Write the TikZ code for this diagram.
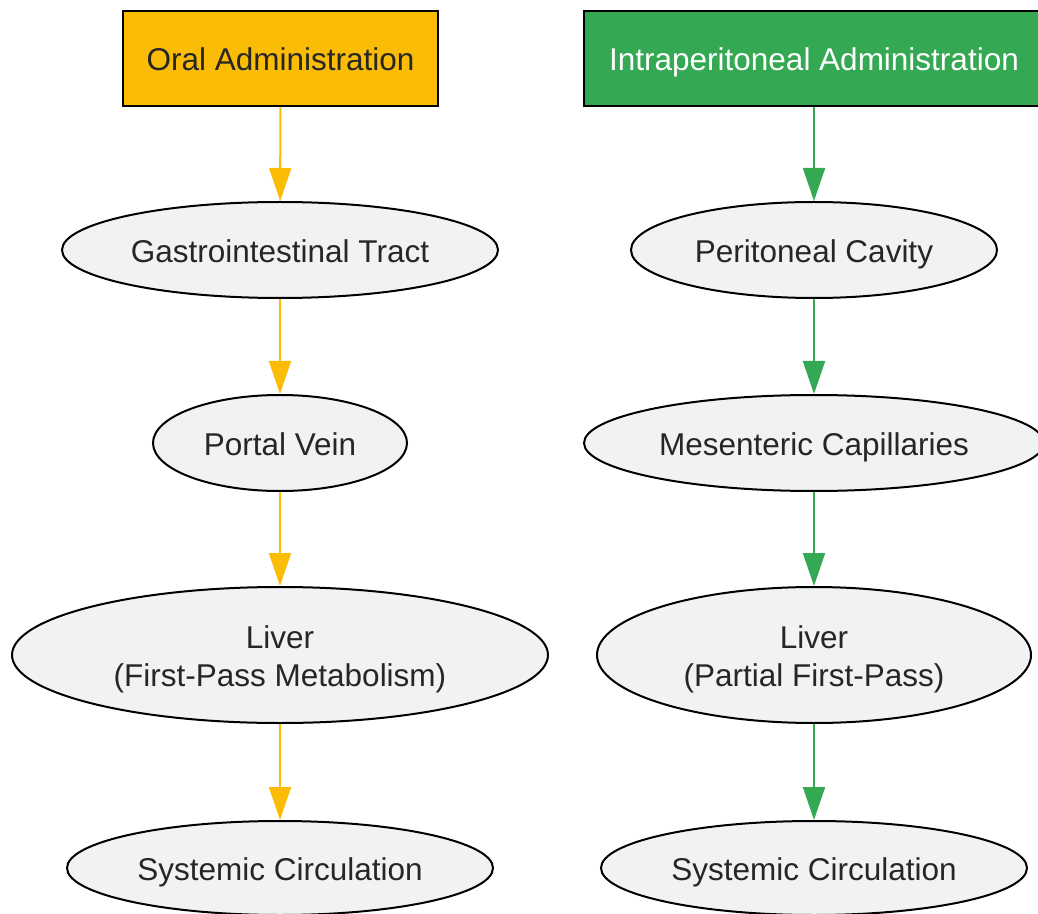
\documentclass[tikz,border=0pt]{standalone}
\usepackage{fontspec}
\setmainfont{Liberation Sans}
\usetikzlibrary{shapes.geometric,arrows.meta}

\definecolor{oralyellow}{HTML}{FBBC05}
\definecolor{ipgreen}{HTML}{34A853}
\definecolor{stepgray}{HTML}{F1F2F4}
\definecolor{textgray}{HTML}{262626}

\tikzset{
  routebox/.style={draw=black, line width=1pt, rectangle, inner sep=0pt,
    minimum width=#1, minimum height=47.5pt, text height=12.5pt, text depth=0pt},
  organ/.style={draw=black, line width=1pt, ellipse, fill=stepgray, inner sep=0pt,
    text=textgray, align=center, text height=12.5pt, text depth=0pt},
  twoline/.style={text height=31pt, text depth=0pt},
  oralflow/.style={draw=oralyellow, line width=1pt, -{Triangle[length=16.5pt, width=11pt]}},
  ipflow/.style={draw=ipgreen, line width=1pt, -{Triangle[length=16.5pt, width=11pt]}}
}

\begin{document}
\begin{tikzpicture}[x=0.5pt, y=-0.5pt, font=\fontsize{15.75}{19}\selectfont]
\useasboundingbox (0,0) rectangle (1038,914);

\node [routebox=157.5pt, fill=oralyellow, text=textgray] (oral) at (280.5,58.5) {Oral Administration};
\node [organ, minimum width=218pt, minimum height=48pt] (gi) at (280,250) {Gastrointestinal Tract};
\node [organ, minimum width=127pt, minimum height=48pt] (portal) at (280,443) {Portal Vein};
\node [organ, twoline, minimum width=268pt, minimum height=68pt] (liverA) at (280,655) {Liver\\(First-Pass Metabolism)};
\node [organ, minimum width=213pt, minimum height=47pt] (sysA) at (280,868) {Systemic Circulation};

\node [routebox=230pt, fill=ipgreen, text=white] (ip) at (814,58.5) {Intraperitoneal Administration};
\node [organ, minimum width=183pt, minimum height=48pt] (cavity) at (814,250) {Peritoneal Cavity};
\node [organ, minimum width=230pt, minimum height=48pt] (mesent) at (814,443) {Mesenteric Capillaries};
\node [organ, twoline, minimum width=217pt, minimum height=68pt] (liverB) at (814,655) {Liver\\(Partial First-Pass)};
\node [organ, minimum width=213pt, minimum height=47pt] (sysB) at (814,868) {Systemic Circulation};

\draw [oralflow] (oral) -- (gi);
\draw [oralflow] (gi) -- (portal);
\draw [oralflow] (portal) -- (liverA);
\draw [oralflow] (liverA) -- (sysA);

\draw [ipflow] (ip) -- (cavity);
\draw [ipflow] (cavity) -- (mesent);
\draw [ipflow] (mesent) -- (liverB);
\draw [ipflow] (liverB) -- (sysB);
\end{tikzpicture}
\end{document}
